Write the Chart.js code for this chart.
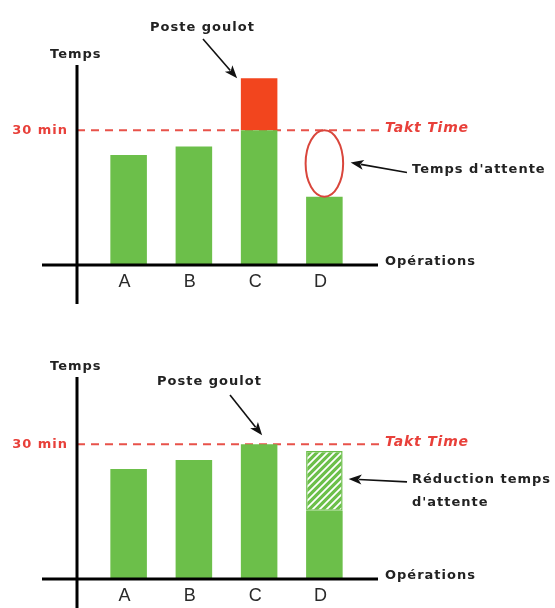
<!DOCTYPE html>
<html><head><meta charset="utf-8">
<script src="https://cdn.jsdelivr.net/npm/chart.js@4.4.0/dist/chart.umd.min.js"></script>
<style>
html,body{margin:0;padding:0;background:#fff;}
canvas{display:block;}
</style></head><body>
<canvas id="c1" width="555" height="304"></canvas>
<canvas id="c2" width="555" height="304"></canvas>
<script>
// ---- data ----
const categories = ['A', 'B', 'C', 'D'];
const taktTime = 30;
const yMax = 45;
const beforeBase = [24.5, 26.4, 30, 15.2];     // temps de cycle (vert)
const beforeOverflow = [0, 0, 11.6, 0];        // dépassement du takt (rouge)
const afterBase = [24.5, 26.5, 30, 15.2];
const afterReduction = [0, 0, 0, 13.3];        // réduction du temps d'attente (hachuré)

const GREEN = '#6cbf4a';
const RED_BAR = '#f2451e';
const RED_TXT = '#e8403a';
const DARK = '#222';

function hatchPattern() {
  const s = 7;
  const c = document.createElement('canvas');
  c.width = s; c.height = s;
  const g = c.getContext('2d');
  g.fillStyle = GREEN; g.fillRect(0, 0, s, s);
  g.strokeStyle = '#ffffff'; g.lineWidth = 1.8;
  g.beginPath();
  g.moveTo(-1, s + 1); g.lineTo(s + 1, -1);
  g.moveTo(-2, 2); g.lineTo(2, -2);
  g.moveTo(s - 2, s + 2); g.lineTo(s + 2, s - 2);
  g.stroke();
  return g.createPattern(c, 'repeat');
}

function arrow(ctx, x1, y1, x2, y2) {
  const a = Math.atan2(y2 - y1, x2 - x1);
  const L = 13, W = 5;
  ctx.save();
  ctx.strokeStyle = '#111'; ctx.fillStyle = '#111'; ctx.lineWidth = 1.6;
  ctx.beginPath();
  ctx.moveTo(x1, y1);
  ctx.lineTo(x2 - Math.cos(a) * L * 0.8, y2 - Math.sin(a) * L * 0.8);
  ctx.stroke();
  ctx.beginPath();
  ctx.moveTo(x2, y2);
  ctx.lineTo(x2 - Math.cos(a) * L - Math.sin(a) * W, y2 - Math.sin(a) * L + Math.cos(a) * W);
  ctx.lineTo(x2 - Math.cos(a) * L * 0.75, y2 - Math.sin(a) * L * 0.75);
  ctx.lineTo(x2 - Math.cos(a) * L + Math.sin(a) * W, y2 - Math.sin(a) * L - Math.cos(a) * W);
  ctx.closePath();
  ctx.fill();
  ctx.restore();
}

function txt(ctx, s, x, y, opt) {
  opt = opt || {};
  ctx.save();
  ctx.font = opt.font || 'bold 13px "DejaVu Sans"';
  ctx.fillStyle = opt.color || DARK;
  ctx.textAlign = opt.align || 'left';
  ctx.textBaseline = 'middle';
  if ('letterSpacing' in ctx) ctx.letterSpacing = (opt.ls === undefined ? 1 : opt.ls) + 'px';
  ctx.fillText(s, x, y);
  ctx.restore();
}

const decor = {
  id: 'decor',
  beforeDatasetsDraw(chart, args, o) {
    const { ctx, chartArea: ca, scales: { y } } = chart;
    const ty = y.getPixelForValue(taktTime);
    ctx.save();
    ctx.strokeStyle = '#e8524a'; ctx.lineWidth = 2; ctx.setLineDash([8, 6]);
    ctx.beginPath(); ctx.moveTo(ca.left - 19, ty); ctx.lineTo(ca.right + 28, ty); ctx.stroke();
    ctx.restore();
  },
  afterDatasetsDraw(chart, args, o) {
    const { ctx, chartArea: ca, scales: { x, y } } = chart;
    const ax = ca.left - 19, ay = ca.bottom;
    const ty = y.getPixelForValue(taktTime);
    // axes
    ctx.save();
    ctx.strokeStyle = '#000'; ctx.lineWidth = 3;
    ctx.beginPath();
    ctx.moveTo(ax, ca.top + o.yTop); ctx.lineTo(ax, chart.height);
    ctx.moveTo(ca.left - 54, ay); ctx.lineTo(ca.right + 21, ay);
    ctx.stroke();
    ctx.restore();
    // category labels
    categories.forEach((c, i) => {
      txt(ctx, c, x.getPixelForValue(i) - 4, ay + 17, { font: '18px "Liberation Sans"', color: '#2a2a2a', align: 'center', ls: 0 });
    });
    txt(ctx, 'Temps', 50, o.tempsY);
    txt(ctx, 'Poste goulot', o.posteX, o.posteY);
    txt(ctx, '30 min', 68, ty, { color: RED_TXT, align: 'right' });
    txt(ctx, 'Takt Time', 385, ty - 2, { color: RED_TXT, font: 'italic bold 14px "DejaVu Sans"', ls: 0.8 });
    txt(ctx, 'Opérations', 385, ay - 3);
    // arrow to C
    const meta = chart.getDatasetMeta(o.topDs);
    const cBar = meta.data[2];
    const cTop = chart.data.datasets[o.topDs].data[2] > 0 ? cBar.y : chart.getDatasetMeta(0).data[2].y;
    arrow(ctx, o.arrowTail[0], o.arrowTail[1], x.getPixelForValue(2) + o.arrowDx, cTop + o.arrowDy);
    const dx = x.getPixelForValue(3);
    const half = cBar.width / 2;
    if (o.mode === 'before') {
      const dTop = chart.getDatasetMeta(0).data[3].y;
      ctx.save();
      ctx.strokeStyle = '#d9463c'; ctx.lineWidth = 2;
      ctx.beginPath();
      ctx.ellipse(dx, (ty + dTop) / 2, half + 0.5, (dTop - ty) / 2, 0, 0, Math.PI * 2);
      ctx.stroke();
      ctx.restore();
      arrow(ctx, 407, (ty + dTop) / 2 + 9, dx + half + 8, (ty + dTop) / 2 - 1);
      txt(ctx, "Temps d'attente", 412, (ty + dTop) / 2 + 6);
    } else {
      const hb = chart.getDatasetMeta(1).data[3];
      const mid = (hb.y + hb.base) / 2;
      arrow(ctx, 407, mid + 1, dx + half + 6, mid - 2);
      txt(ctx, 'Réduction temps', 412, mid - 1);
      txt(ctx, "d'attente", 412, mid + 22);
    }
  }
};

function make(id, base, extra, extraStyle, pad, o) {
  return new Chart(document.getElementById(id), {
    type: 'bar',
    data: {
      labels: categories,
      datasets: [
        { data: base, backgroundColor: GREEN, borderWidth: 0 },
        Object.assign({ data: extra }, extraStyle)
      ]
    },
    options: {
      responsive: false, animation: false, devicePixelRatio: 1,
      layout: { padding: pad },
      datasets: { bar: { barPercentage: 0.56, categoryPercentage: 1 } },
      scales: {
        x: { display: false, stacked: true },
        y: { display: false, stacked: true, min: 0, max: yMax }
      },
      plugins: { legend: { display: false }, tooltip: { enabled: false }, decor: o }
    },
    plugins: [decor]
  });
}

make('c1', beforeBase, beforeOverflow, { backgroundColor: RED_BAR, borderWidth: 0 },
  { left: 96, right: 198, top: 63, bottom: 39 },
  { mode: 'before', topDs: 1, yTop: 2, tempsY: 55, posteX: 150, posteY: 28, arrowTail: [203, 39], arrowDx: -22, arrowDy: 0 });

make('c2', afterBase, afterReduction, { backgroundColor: hatchPattern(), borderColor: GREEN, borderWidth: 1.5, borderSkipped: false },
  { left: 96, right: 198, top: 73, bottom: 29 },
  { mode: 'after', topDs: 1, yTop: 0, tempsY: 63, posteX: 157, posteY: 78, arrowTail: [230, 91], arrowDx: 3, arrowDy: -9 });
</script>
</body></html>
